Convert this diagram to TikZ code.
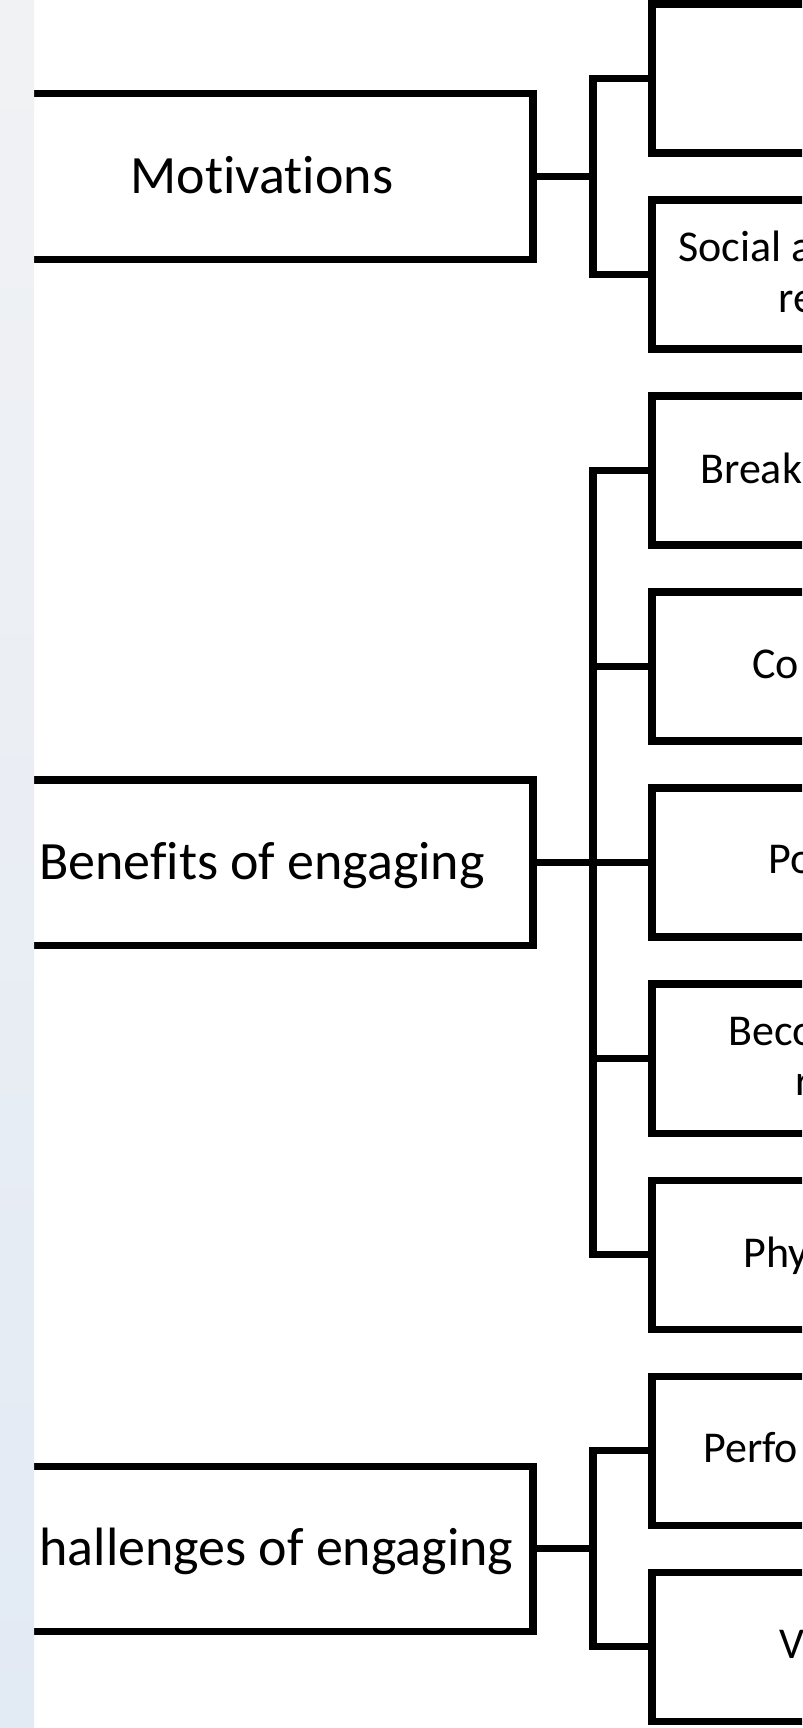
\documentclass[tikz,border=0pt]{standalone}
\usepackage{fontspec}
\setmainfont{Carlito}[Ligatures=NoCommon]
\usetikzlibrary{positioning}
\definecolor{stripgray}{RGB}{241,242,244}
\definecolor{stripblue}{RGB}{226,234,244}

\begin{document}
\begin{tikzpicture}[
  mainbox/.style={draw,line width=5pt,outer sep=0pt,minimum width=13.55cm,minimum height=4.125cm,
    text height=0.825cm,text depth=0pt,font=\fontsize{38.4}{46}\selectfont},
  subbox/.style={draw,line width=5pt,outer sep=0pt,anchor=west,minimum width=10cm,minimum height=3.725cm},
  subtext/.style={anchor=base west,inner sep=0pt,font=\fontsize{31.3}{38}\selectfont},
  link/.style={line width=5pt}
]
\useasboundingbox (0,0) rectangle (20.05,-43.2);
\clip (0,0) rectangle (20.05,-43.2);
\fill[white] (0,0) rectangle (20.05,-43.2);

% Sub-category boxes (right column)
\foreach \i in {1,...,9}
  \node[subbox] (sub\i) at (16.3,{2.9375-4.9*\i}) {};

% Main categories
\node[mainbox,minimum height=4.15cm] (motiv) at (6.55,-4.4125) {Motivations};
\node[mainbox] (benef) at (6.55,-21.5625) {Benefits of engaging};
\node[mainbox] (chall) at (6.55,-38.7125) {\phantom{C}hallenges of engaging};

% Connectors
\foreach \s in {1,2}
  \draw[link] (motiv.east) -- ++(1.5,0) |- (sub\s.west);
\foreach \s in {3,...,7}
  \draw[link] (benef.east) -- ++(1.5,0) |- (sub\s.west);
\foreach \s in {8,9}
  \draw[link] (chall.east) -- ++(1.5,0) |- (sub\s.west);

% Sub-category texts
\node[subtext] (txtsoc) at (16.95,-6.525) {Social a};
\node[subtext] (txtsocb) at (19.45,-7.8) {re};
\node[subtext] (txtbrk) at (17.5,-12.075) {Break};
\node[subtext] (txtco) at (18.8,-16.95) {Co};
\node[subtext] (txtpo) at (19.2,-21.825) {Po};
\node[subtext] (txtbec) at (18.2,-26.125) {Beco};
\node[subtext] (txtbecb) at (19.875,-27.375) {r};
\node[subtext] (txtphy) at (18.575,-31.675) {Phy};
\node[subtext] (txtperf) at (17.575,-36.55) {Perfo};
\node[subtext] (txtv) at (19.475,-41.45) {V};

% Left strip
\shade[top color=stripgray,bottom color=stripblue] (0,0) rectangle (0.85,-43.2);
\end{tikzpicture}
\end{document}
